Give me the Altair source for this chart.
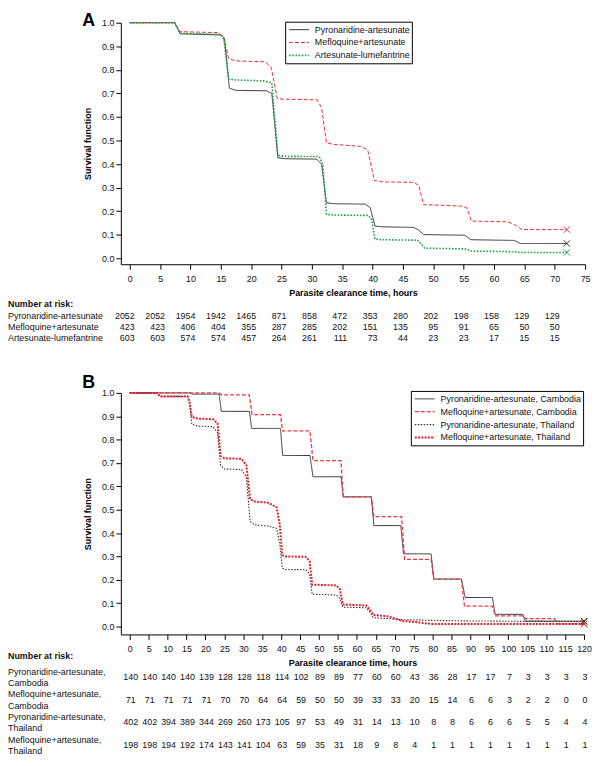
import altair as alt
import pandas as pd

FONT = "Liberation Sans"

# ---------------- Panel A data ----------------
A_series = ["Pyronaridine-artesunate", "Mefloquine+artesunate", "Artesunate-lumefantrine"]
A_colors = ["#333333", "#e3323e", "#1f9d49"]
A_dashes = [[1, 0], [4, 2], [1.6, 1.6]]
A_widths = [1.0, 1.0, 1.6]

A_pyr_t = [0, 7.4, 8.3, 15.0, 15.6, 16.4, 17.5, 22.5, 23.4, 24.4, 25.5, 30.8, 31.6, 32.4, 33.5, 38.8, 39.6, 40.4, 41.5, 46.8, 47.6, 48.4, 55.2, 56.2, 63.4, 64.3, 72]
A_pyr_s = [1, 1, 0.953, 0.948, 0.935, 0.722, 0.713, 0.711, 0.700, 0.427, 0.423, 0.421, 0.40, 0.236, 0.232, 0.230, 0.215, 0.137, 0.134, 0.131, 0.120, 0.101, 0.098, 0.079, 0.076, 0.063, 0.063]
A_mef_t = [0, 7.4, 8.3, 14.5, 15.4, 16.3, 17.5, 22.3, 23.3, 24.3, 25.5, 30.8, 31.6, 32.4, 33.5, 38.0, 39.2, 40.3, 41.5, 46.8, 47.6, 48.4, 54.5, 55.5, 56.3, 62.3, 63.6, 64.6, 72]
A_mef_s = [1, 1, 0.962, 0.958, 0.94, 0.847, 0.838, 0.834, 0.81, 0.678, 0.675, 0.673, 0.64, 0.49, 0.484, 0.475, 0.46, 0.33, 0.325, 0.322, 0.31, 0.228, 0.222, 0.215, 0.158, 0.155, 0.14, 0.122, 0.122]
A_art_t = [0, 7.4, 8.3, 15.0, 15.5, 16.3, 17.5, 22.0, 23.4, 24.4, 25.5, 31.2, 31.8, 32.4, 33.5, 39.2, 39.8, 40.4, 41.5, 47.4, 48.0, 48.6, 55.3, 56.3, 63.5, 64.2, 72]
A_art_s = [1, 1, 0.955, 0.95, 0.93, 0.762, 0.757, 0.753, 0.745, 0.437, 0.433, 0.432, 0.40, 0.187, 0.184, 0.182, 0.17, 0.082, 0.079, 0.077, 0.06, 0.043, 0.04, 0.031, 0.028, 0.025, 0.025]

A_ticks = list(range(0, 80, 5))
A_risk_times = list(range(0, 75, 5))
A_risk_pyr = [2052, 2052, 1954, 1942, 1465, 871, 858, 472, 353, 280, 202, 198, 158, 129, 129]
A_risk_mef = [423, 423, 406, 404, 355, 287, 285, 202, 151, 135, 95, 91, 65, 50, 50]
A_risk_art = [603, 603, 574, 574, 457, 264, 261, 111, 73, 44, 23, 23, 17, 15, 15]
A_row_labels = ["Pyronaridine-artesunate", "Mefloquine+artesunate", "Artesunate-lumefantrine"]

# ---------------- Panel B data ----------------
B_series = ["Pyronaridine-artesunate, Cambodia", "Mefloquine+artesunate, Cambodia",
            "Pyronaridine-artesunate, Thailand", "Mefloquine+artesunate, Thailand"]
B_colors = ["#333333", "#e53a45", "#333333", "#e0202c"]
B_dashes = [[1, 0], [4, 2], [1.5, 1.5], [2, 1.3]]
B_widths = [1.0, 1.3, 1.1, 2.0]

B_pc_t = [0, 16, 16.6, 23.6, 24.2, 31.6, 32.2, 39.8, 40.4, 47.6, 48.4, 55.8, 56.4, 63.8, 64.5, 71.6, 72.3, 79.6, 80.3, 87.6, 88.6, 95.8, 96.5, 103.8, 104.5, 120]
B_pc_s = [1, 1, 0.995, 0.995, 0.921, 0.921, 0.848, 0.848, 0.732, 0.732, 0.641, 0.641, 0.555, 0.555, 0.432, 0.432, 0.311, 0.311, 0.203, 0.203, 0.124, 0.124, 0.052, 0.052, 0.023, 0.023]
B_mc_t = [0, 23.6, 24.2, 31.6, 32.3, 39.8, 40.4, 47.6, 48.4, 55.8, 56.4, 63.8, 64.5, 71.8, 72.6, 79.6, 80.3, 87.6, 88.4, 95.8, 96.6, 103.8, 104.5, 112.2, 112.8, 120]
B_mc_s = [1, 1, 0.992, 0.992, 0.907, 0.907, 0.837, 0.837, 0.71, 0.71, 0.555, 0.555, 0.47, 0.47, 0.287, 0.287, 0.203, 0.203, 0.087, 0.087, 0.045, 0.045, 0.034, 0.034, 0.011, 0.011]
B_pt_t = [0, 7.3, 8.0, 15.3, 15.8, 16.4, 18, 22, 23.2, 24.0, 25, 29.5, 30.8, 31.8, 33, 36.5, 38.8, 39.6, 40.3, 41, 46.5, 47.5, 48.2, 54.5, 55.5, 56.3, 62.5, 63.5, 64.3, 68, 72, 80, 88, 104, 120]
B_pt_s = [1, 1, 0.985, 0.985, 0.96, 0.866, 0.858, 0.855, 0.83, 0.69, 0.674, 0.672, 0.64, 0.45, 0.435, 0.43, 0.42, 0.36, 0.25, 0.244, 0.243, 0.225, 0.138, 0.135, 0.12, 0.083, 0.08, 0.06, 0.038, 0.034, 0.029, 0.026, 0.024, 0.022, 0.021]
B_mt_t = [0, 7.3, 8.0, 15.3, 15.8, 16.4, 18, 22, 23.2, 24.0, 25, 29.5, 30.8, 31.8, 33, 36.5, 38.8, 39.6, 40.3, 41, 46.5, 47.5, 48.2, 54.5, 55.5, 56.3, 62.5, 63.5, 64.3, 68, 72, 76, 79.5, 120]
B_mt_s = [1, 1, 0.985, 0.985, 0.96, 0.897, 0.89, 0.887, 0.87, 0.73, 0.72, 0.718, 0.69, 0.545, 0.535, 0.53, 0.51, 0.44, 0.306, 0.300, 0.298, 0.28, 0.179, 0.176, 0.16, 0.094, 0.09, 0.07, 0.049, 0.044, 0.024, 0.018, 0.011, 0.011]

B_ticks = list(range(0, 125, 5))
B_risk_times = list(range(0, 125, 5))
B_risk_pc = [140, 140, 140, 140, 139, 128, 128, 118, 114, 102, 89, 89, 77, 60, 60, 43, 36, 28, 17, 17, 7, 3, 3, 3, 3]
B_risk_mc = [71, 71, 71, 71, 71, 70, 70, 64, 64, 59, 50, 50, 39, 33, 33, 20, 15, 14, 6, 6, 3, 2, 2, 0, 0]
B_risk_pt = [402, 402, 394, 389, 344, 269, 260, 173, 105, 97, 53, 49, 31, 14, 13, 10, 8, 8, 6, 6, 6, 5, 5, 4, 4]
B_risk_mt = [198, 198, 194, 192, 174, 143, 141, 104, 63, 59, 35, 31, 18, 9, 8, 4, 1, 1, 1, 1, 1, 1, 1, 1, 1]
B_row_labels = ["Pyronaridine-artesunate,\nCambodia", "Mefloquine+artesunate,\nCambodia",
                "Pyronaridine-artesunate,\nThailand", "Mefloquine+artesunate,\nThailand"]

Y_TICKS = [0, 0.1, 0.2, 0.3, 0.4, 0.5, 0.6, 0.7, 0.8, 0.9, 1.0]


def curves_df(series, ts_list, ss_list):
    rows = []
    for name, ts, ss in zip(series, ts_list, ss_list):
        for i, (t, s) in enumerate(zip(ts, ss)):
            rows.append({"series": name, "t": t, "s": s, "i": i})
    return pd.DataFrame(rows)


def censor_df(series, ts_list, ss_list):
    return pd.DataFrame({"series": series,
                         "t": [ts[-1] for ts in ts_list],
                         "s": [ss[-1] for ss in ss_list]})


def make_legend(x, y):
    return alt.Legend(orient="none", legendX=x, legendY=y, title=None,
                      symbolType="stroke", symbolSize=400, clipHeight=13,
                      rowPadding=0, padding=1.5, strokeColor="#000000",
                      symbolOffset=1.5, labelOffset=5, labelFontSize=9,
                      labelFont=FONT, labelColor="#111111", labelLimit=400)


def axis_common():
    return dict(grid=False, labelFlush=False, labelOverlap=False, tickSize=5,
                domainColor="#000000", tickColor="#000000", labelColor="#111111",
                titleColor="#000000", labelFont=FONT, titleFont=FONT,
                labelFontSize=9, titleFontSize=9, titleFontWeight="bold",
                domainWidth=1, tickWidth=1)


def text_layer(df, x, y, text, **kw):
    return alt.Chart(df).mark_text(font=FONT, fontSize=9, color="#111111",
                                   baseline="middle", **kw).encode(
        x=x, y=y, text=text)


def panel(letter, letter_y, series, colors, dashes, widths, ts_list, ss_list,
          xdom, xticks, ydom, width, height, legend,
          risk_times, risk_rows, row_labels, label_ys, num_ys, nar_y,
          num_align, num_dx):
    xs = alt.Scale(domain=xdom, nice=False, zero=False)
    ys = alt.Scale(domain=ydom, nice=False, zero=False)
    xax = alt.Axis(values=xticks, title="Parasite clearance time, hours",
                   labelPadding=5, titlePadding=5.5, **axis_common())
    yax = alt.Axis(values=Y_TICKS, format=".1f", title="Survival function",
                   labelPadding=2, titlePadding=9, **axis_common())
    cscale = alt.Scale(domain=series, range=colors)
    dscale = alt.Scale(domain=series, range=dashes)
    wscale = alt.Scale(type="ordinal", domain=series, range=widths)

    lines = alt.Chart(curves_df(series, ts_list, ss_list)).mark_line(
        interpolate="linear").encode(
        x=alt.X("t:Q", scale=xs, axis=xax),
        y=alt.Y("s:Q", scale=ys, axis=yax),
        color=alt.Color("series:N", scale=cscale, legend=legend),
        strokeDash=alt.StrokeDash("series:N", scale=dscale, legend=legend),
        strokeWidth=alt.StrokeWidth("series:N", scale=wscale, legend=legend),
        order="i:Q",
    )
    marks = alt.Chart(censor_df(series, ts_list, ss_list)).mark_point(
        shape="M-1,-1L1,1M-1,1L1,-1", size=40, filled=False, strokeWidth=1,
        opacity=1).encode(
        x=alt.X("t:Q", scale=xs, axis=xax),
        y=alt.Y("s:Q", scale=ys, axis=yax),
        color=alt.Color("series:N", scale=cscale, legend=None),
    )
    layers = [lines, marks]

    layers.append(alt.Chart(pd.DataFrame({"lab": [letter]})).mark_text(
        font=FONT, fontSize=18, fontWeight="bold", align="left",
        baseline="alphabetic", color="#000000").encode(
        x=alt.value(-39), y=alt.value(letter_y), text="lab:N"))
    layers.append(text_layer(pd.DataFrame({"lab": ["Number at risk:"]}),
                             alt.value(-114), alt.value(nar_y), "lab:N",
                             align="left", fontWeight="bold"))
    for lab, ly in zip(row_labels, label_ys):
        layers.append(text_layer(pd.DataFrame({"lab": [lab]}),
                                 alt.value(-114), alt.value(ly), "lab:N",
                                 align="left", lineBreak="\n", lineHeight=11.5))
    for vals, ny in zip(risk_rows, num_ys):
        df = pd.DataFrame({"t": risk_times, "n": vals})
        layers.append(text_layer(df, alt.X("t:Q", scale=xs, axis=xax),
                                 alt.value(ny), "n:Q",
                                 align=num_align, dx=num_dx))
    return alt.layer(*layers).properties(width=width, height=height)


panelA = panel("A", 3, A_series, A_colors, A_dashes, A_widths,
               [A_pyr_t, A_mef_t, A_art_t], [A_pyr_s, A_mef_s, A_art_s],
               [-1.47, 75], A_ticks, [-0.025, 1], 469, 244,
               make_legend(166, -1),
               A_risk_times, [A_risk_pyr, A_risk_mef, A_risk_art],
               A_row_labels, [296.5, 307.5, 319], [296.5, 307.5, 319], 284,
               "right", 5)

panelB = panel("B", -5, B_series, B_colors, B_dashes, B_widths,
               [B_pc_t, B_mc_t, B_pt_t, B_mt_t], [B_pc_s, B_mc_s, B_pt_s, B_mt_s],
               [-2.35, 120], B_ticks, [-0.034, 1], 468, 244,
               make_legend(293, -2),
               B_risk_times, [B_risk_pc, B_risk_mc, B_risk_pt, B_risk_mt],
               B_row_labels, [281.5, 304.5, 327.5, 350.5], [287, 310, 333, 356], 266,
               "center", 1)

chart = alt.vconcat(panelA, panelB, spacing=130, bounds="flush").resolve_scale(
    x="independent", y="independent", color="independent",
    strokeDash="independent", strokeWidth="independent",
).properties(
    padding=0, background="white",
).configure_view(stroke=None).configure_text(font=FONT)

chart.save("out.html", embed_options={"renderer": "svg", "actions": False})
